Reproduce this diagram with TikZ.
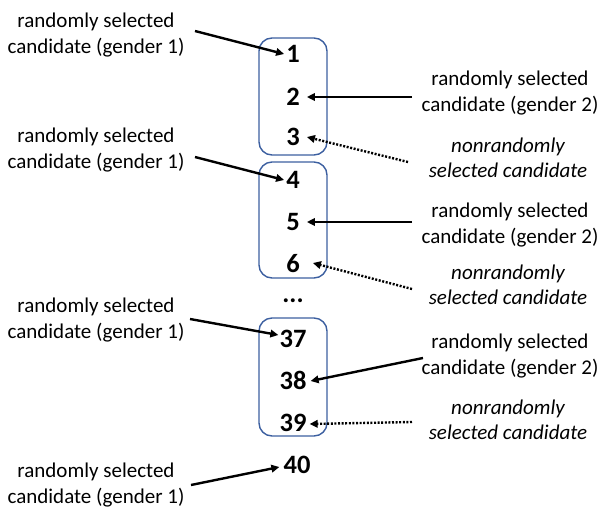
\documentclass[tikz,border=0pt]{standalone}
\usepackage{fontspec}
\setmainfont{Carlito}
\usetikzlibrary{arrows.meta}
\definecolor{boxblue}{RGB}{60,95,160}
\tikzset{
  num/.style={font=\fontsize{26.5}{30}\selectfont\bfseries, inner sep=0pt, anchor=center},
  lbl/.style={font=\fontsize{21}{25.5}\selectfont, align=center, inner sep=0pt, anchor=center},
  ilbl/.style={lbl, font=\fontsize{21}{25.5}\selectfont\itshape},
  grp/.style={draw=boxblue, line width=1.4pt, rounded corners=13pt},
  arr/.style={line width=2.4pt, -{Triangle[length=8pt,width=7.5pt]}},
  darr/.style={line width=2.4pt, dash pattern=on 2pt off 1.6pt, -{Triangle[length=8pt,width=7.5pt]}},
}
\begin{document}
\begin{tikzpicture}[x=1pt,y=-1pt]
\useasboundingbox (0,0) rectangle (603,523);
% group boxes
\draw[grp] (259,38) rectangle (327,155);
\draw[grp] (259,162) rectangle (327,278);
\draw[grp] (259,318) rectangle (327,436);
% numbers
\node[num] (n1) at (293,54) {1};
\node[num] (n2) at (293,97) {2};
\node[num] (n3) at (293,137) {3};
\node[num] (n4) at (293,180) {4};
\node[num] (n5) at (293,222) {5};
\node[num] (n6) at (293,264) {6};
\node[num] (dots) at (293,301) {...};
\node[num] (n37) at (293,339) {37};
\node[num] (n38) at (293,380) {38};
\node[num] (n39) at (293,423) {39};
\node[num] (n40) at (297,465) {40};
% left labels
\node[lbl] (l1) at (96,35) {randomly selected\\candidate (gender 1)};
\node[lbl] (l4) at (96,150) {randomly selected\\candidate (gender 1)};
\node[lbl] (l37) at (96,320) {randomly selected\\candidate (gender 1)};
\node[lbl] (l40) at (96,485) {randomly selected\\candidate (gender 1)};
% right labels
\node[lbl] (r2) at (510,93) {randomly selected\\candidate (gender 2)};
\node[ilbl] (r3) at (508,158) {nonrandomly\\selected candidate};
\node[lbl] (r5) at (510,225) {randomly selected\\candidate (gender 2)};
\node[ilbl] (r6) at (508,285) {nonrandomly\\selected candidate};
\node[lbl] (r38) at (510,356) {randomly selected\\candidate (gender 2)};
\node[ilbl] (r39) at (508,420) {nonrandomly\\selected candidate};
% arrow start points
\coordinate (a1) at (195,31);
\coordinate (a2) at (412,97);
\coordinate (a3) at (408,162);
\coordinate (a4) at (195,157);
\coordinate (a5) at (412,222);
\coordinate (a6) at (412,289);
\coordinate (a37) at (190,319);
\coordinate (a38) at (423,358);
\coordinate (a39) at (412,422);
\coordinate (a40) at (191,485);
% arrows
\draw[arr] (a1) -- ([xshift=-2pt]n1.west);
\draw[arr] (a2) -- ([xshift=7pt]n2.east);
\draw[darr] (a3) -- ([xshift=7pt]n3.east);
\draw[arr] (a4) -- ([xshift=-2pt]n4.west);
\draw[arr] (a5) -- ([xshift=7pt]n5.east);
\draw[darr] (a6) -- ([xshift=13pt,yshift=1pt]n6.east);
\draw[arr] (a37) -- ([xshift=-1pt,yshift=4pt]n37.west);
\draw[arr] (a38) -- ([xshift=4pt,yshift=-1pt]n38.east);
\draw[darr] (a39) -- ([xshift=3pt,yshift=-1pt]n39.east);
\draw[arr] (a40) -- ([xshift=-4pt,yshift=-2pt]n40.west);
\end{tikzpicture}
\end{document}
